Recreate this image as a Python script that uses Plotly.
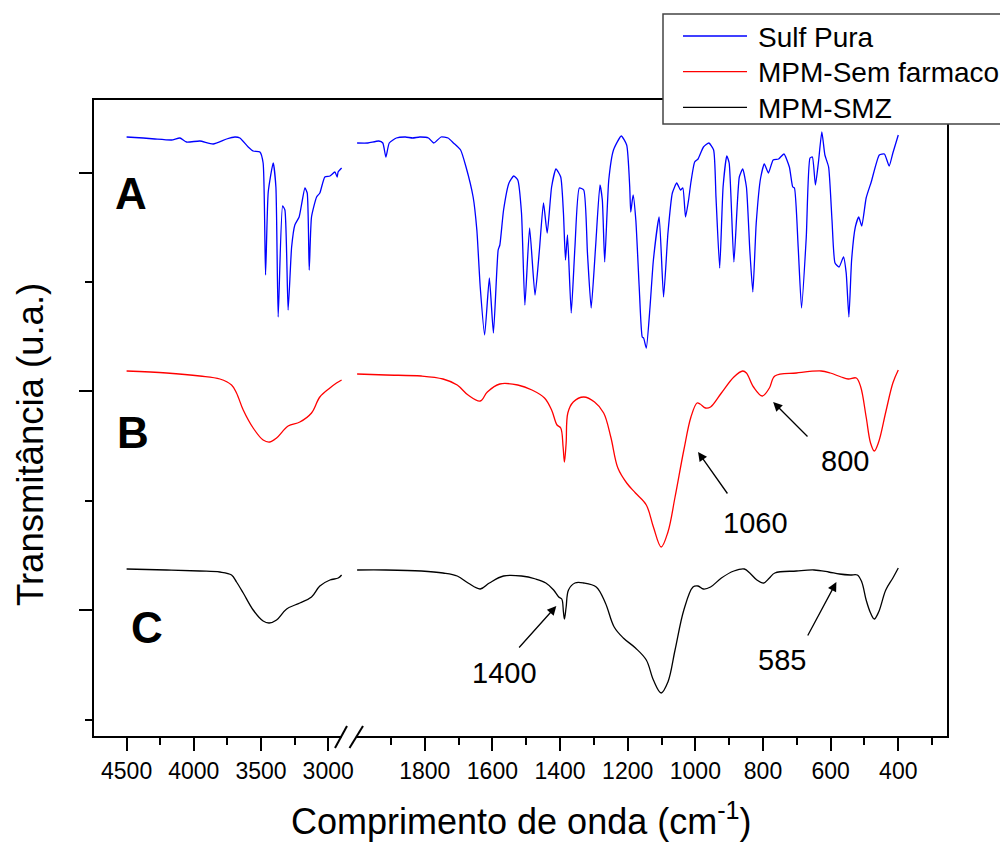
import plotly.graph_objects as go

FONT = "Liberation Sans, Arial, Helvetica, sans-serif"

# ---------------- data (wavenumber in cm-1, transmittance in arbitrary units, stacked) ----------------
series_names = ["Sulf Pura", "MPM-Sem farmaco", "MPM-SMZ"]
series_colors = ["#0000FF", "#FF0000", "#000000"]

# A - Sulf Pura
wn_a_hi = [4500, 4376, 4289, 4165, 4103, 4054, 3955, 3856, 3756, 3694, 3657, 3595, 3558, 3508,
           3484, 3466, 3446, 3409, 3389, 3372, 3339, 3322, 3298, 3272, 3248, 3216, 3173, 3156,
           3141, 3124, 3086, 3062, 3025, 2987, 2950, 2933, 2926, 2900]
val_a_hi = [600, 599, 598, 597, 599, 595, 596, 593, 598, 600, 599, 590, 586, 585,
            574, 462, 545, 574, 550, 420, 531, 527, 427, 490, 512, 520, 549, 544,
            467, 520, 540, 544, 560, 561, 565, 560, 565, 569]
wn_a_lo = [2000, 1968, 1936, 1924, 1915, 1905, 1884, 1857, 1836, 1815, 1789, 1773, 1752, 1731,
           1715, 1694, 1678, 1657, 1646, 1636, 1623, 1609, 1597, 1583, 1578, 1567, 1551, 1537,
           1525, 1514, 1504, 1490, 1474, 1461, 1449, 1438, 1425, 1412, 1398, 1390, 1384, 1378,
           1367, 1356, 1343, 1330, 1319, 1308, 1295, 1282, 1275, 1268, 1256, 1242, 1219, 1203,
           1194, 1191, 1184, 1176, 1166, 1157, 1153, 1145, 1134, 1124, 1107, 1094, 1081, 1068,
           1055, 1044, 1037, 1029, 1020, 1013, 1002, 992, 976, 960, 946, 939, 928, 918,
           907, 900, 886, 870, 860, 849, 839, 830, 820, 807, 796, 784, 770, 754,
           738, 722, 712, 707, 696, 686, 672, 661, 654, 645, 636, 626, 617, 606,
           596, 587, 575, 562, 554, 546, 538, 527, 517, 508, 495, 480, 456, 441,
           427, 416, 400]
val_a_lo = [594, 594, 596, 594, 580, 594, 599, 600, 599, 600, 599, 594, 600, 599,
            594, 587, 570, 540, 507, 450, 402, 459, 404, 487, 492, 527, 554, 561,
            557, 524, 432, 509, 442, 487, 534, 504, 550, 568, 560, 524, 477, 502,
            424, 490, 549, 547, 484, 429, 490, 552, 537, 475, 557, 587, 601, 592,
            550, 525, 542, 517, 450, 400, 399, 389, 430, 477, 520, 440, 504, 544,
            554, 547, 549, 520, 537, 555, 575, 578, 590, 594, 587, 540, 469, 550,
            581, 574, 475, 560, 568, 550, 487, 445, 514, 559, 573, 564, 577, 578,
            583, 570, 550, 549, 490, 429, 500, 579, 580, 552, 575, 605, 582, 570,
            517, 474, 470, 480, 464, 420, 477, 510, 520, 511, 539, 555, 582, 583,
            571, 584, 602]

# B - MPM-Sem farmaco
wn_b_hi = [4500, 4202, 3955, 3806, 3719, 3682, 3632, 3558, 3484, 3434, 3384, 3298, 3211, 3124,
           3062, 2987, 2938, 2900]
val_b_hi = [366, 364, 361, 358, 352, 344, 327, 309, 297, 295, 299, 311, 315, 324,
            340, 349, 354, 357]
wn_b_lo = [2000, 1915, 1810, 1746, 1704, 1672, 1636, 1615, 1578, 1525, 1483, 1446, 1425, 1409,
           1398, 1391, 1387, 1382, 1377, 1361, 1330, 1298, 1271, 1250, 1229, 1203, 1177, 1145,
           1124, 1101, 1081, 1060, 1034, 1013, 995, 986, 970, 955, 923, 886, 860, 849,
           828, 802, 781, 765, 701, 628, 601, 569, 548, 524, 511, 495, 482, 471,
           458, 437, 416, 400]
val_b_lo = [363, 362, 361, 358, 352, 342, 336, 345, 353, 352, 347, 339, 327, 312,
            309, 290, 275, 294, 324, 335, 340, 335, 324, 300, 269, 254, 244, 232,
            210, 190, 205, 240, 287, 320, 334, 333, 329, 330, 344, 360, 366, 364,
            350, 341, 349, 361, 364, 366, 364, 360, 358, 359, 350, 320, 294, 286,
            295, 325, 354, 367]

# C - MPM-SMZ
wn_c_hi = [4500, 4202, 3955, 3806, 3719, 3682, 3632, 3558, 3484, 3439, 3384, 3309, 3211, 3124,
           3062, 2987, 2925, 2900]
val_c_hi = [168, 167, 166, 165, 162, 155, 144, 127, 116, 114, 117, 128, 134, 140,
            151, 157, 159, 162]
wn_c_lo = [2000, 1915, 1810, 1746, 1704, 1672, 1636, 1609, 1567, 1514, 1472, 1442, 1419, 1404,
           1395, 1390, 1387, 1382, 1375, 1356, 1330, 1293, 1266, 1240, 1213, 1177, 1145, 1124,
           1101, 1081, 1060, 1034, 1007, 992, 976, 955, 923, 886, 855, 839, 818, 798,
           781, 765, 701, 649, 606, 574, 542, 521, 508, 495, 482, 471, 458, 437,
           416, 400]
val_c_lo = [167, 167, 166, 164, 161, 154, 148, 154, 161, 161, 158, 154, 147, 140,
            138, 125, 118, 130, 147, 154, 154, 150, 134, 110, 99, 89, 77, 57,
            44, 55, 87, 127, 150, 151, 148, 150, 159, 166, 168, 164, 157, 154,
            159, 164, 166, 167, 165, 163, 162, 162, 155, 137, 124, 118, 125, 147,
            159, 169]

# axis ticks
x_hi_ticks = [4500, 4000, 3500, 3000]
x_hi_minor = [4250, 3750, 3250]
x_lo_ticks = [1800, 1600, 1400, 1200, 1000, 800, 600, 400]
x_lo_minor = [1900, 1700, 1500, 1300, 1100, 900, 700, 500, 300]
y_major = [126.8, 345.7, 563.7]
y_minor = [17.5, 236.5, 455.5]

# band annotations: label, arrow head (wn, val), arrow tail (wn, val), label centre (wn, val)
band_labels = ["1060", "800", "1400", "585"]
band_head = [(992, 285), (770, 335), (1411, 131), (583, 155)]
band_tail = [(902, 242), (664, 299), (1525, 88), (670, 100)]
band_text = [(821, 214), (559, 276), (1565, 64), (744, 77)]

panel_labels = ["A", "B", "C"]

# ---------------- figure ----------------
W, H = 1000, 843
L, R, T, B = 93, 52, 99, 106
PW, PH = W - L - R, H - T - B


def px(x):
    return (x - L) / PW


def py(y):
    return (H - B - y) / PH


fig = go.Figure()
hi_sets = [(wn_a_hi, val_a_hi), (wn_b_hi, val_b_hi), (wn_c_hi, val_c_hi)]
lo_sets = [(wn_a_lo, val_a_lo), (wn_b_lo, val_b_lo), (wn_c_lo, val_c_lo)]
smooth = [0.5, 1.0, 1.0]
for i, name in enumerate(series_names):
    ln = dict(color=series_colors[i], width=1.3, shape="spline", smoothing=smooth[i])
    fig.add_trace(go.Scatter(x=hi_sets[i][0], y=hi_sets[i][1], xaxis="x", yaxis="y", mode="lines",
                             line=ln, name=name, legendgroup=name, showlegend=False))
    fig.add_trace(go.Scatter(x=lo_sets[i][0], y=lo_sets[i][1], xaxis="x2", yaxis="y", mode="lines",
                             line=ln, name=name, legendgroup=name, showlegend=False))

split = px(349)
common_x = dict(showgrid=False, zeroline=False, showline=False, ticks="outside", ticklen=13,
                tickwidth=2, tickcolor="black", anchor="y", tickmode="array",
                tickfont=dict(family=FONT, size=23, color="black"))
fig.update_layout(
    xaxis=dict(domain=[0, split], range=[4750, 2845], tickvals=x_hi_ticks,
               minor=dict(tickvals=x_hi_minor, ticks="outside", ticklen=7, tickwidth=2, tickcolor="black"),
               **common_x),
    xaxis2=dict(domain=[split, 1], range=[2024, 253], tickvals=x_lo_ticks,
                minor=dict(tickvals=x_lo_minor, ticks="outside", ticklen=7, tickwidth=2, tickcolor="black"),
                **common_x),
    yaxis=dict(domain=[0, 1], range=[0, 638], showgrid=False, zeroline=False, showline=False,
               tickmode="array", tickvals=y_major, showticklabels=False, ticks="outside",
               ticklen=13, tickwidth=2, tickcolor="black",
               minor=dict(tickvals=y_minor, ticks="outside", ticklen=7, tickwidth=2, tickcolor="black")),
    width=W, height=H,
    margin=dict(l=L, r=R, t=T, b=B, autoexpand=False),
    paper_bgcolor="white", plot_bgcolor="white",
    font=dict(family=FONT, color="black"),
    showlegend=False,
)

# frame, axis break marks and legend box
shapes = [
    dict(type="rect", xref="paper", yref="paper", x0=0, x1=1, y0=0, y1=1,
         line=dict(color="black", width=2), layer="above"),
    dict(type="rect", xref="paper", yref="paper", x0=px(341.5), x1=px(356.5), y0=py(741), y1=py(733),
         fillcolor="white", line=dict(width=0), layer="above"),
    dict(type="line", xref="paper", yref="paper", x0=px(335), y0=py(748), x1=px(347), y1=py(726),
         line=dict(color="black", width=2), layer="above"),
    dict(type="line", xref="paper", yref="paper", x0=px(349.5), y0=py(748), x1=px(363), y1=py(726),
         line=dict(color="black", width=2), layer="above"),
    dict(type="rect", xref="paper", yref="paper", x0=px(663), x1=px(1012), y0=py(124), y1=py(14),
         fillcolor="white", line=dict(color="#444444", width=1.5), layer="above"),
]
legend_rows = [36, 71.7, 107.3]
for i, name in enumerate(series_names):
    shapes.append(dict(type="line", xref="paper", yref="paper", x0=px(683), x1=px(747),
                       y0=py(legend_rows[i]), y1=py(legend_rows[i]),
                       line=dict(color=series_colors[i], width=1.3), layer="above"))
fig.update_layout(shapes=shapes)

ann = []
for i, name in enumerate(series_names):
    ann.append(dict(text=name, xref="paper", yref="paper", x=px(756), y=py(legend_rows[i] + 1),
                    showarrow=False, xanchor="left", yanchor="middle",
                    font=dict(family=FONT, size=28, color="black")))
for lab, (cx, cy) in zip(panel_labels, [(131, 193), (133, 432), (147, 627)]):
    ann.append(dict(text="<b>%s</b>" % lab, xref="paper", yref="paper", x=px(cx), y=py(cy),
                    showarrow=False, xanchor="center", yanchor="middle",
                    font=dict(family=FONT, size=44, color="black")))
for lab, hd, tl, tx in zip(band_labels, band_head, band_tail, band_text):
    ann.append(dict(text="", xref="x2", yref="y", x=hd[0], y=hd[1], axref="x2", ayref="y",
                    ax=tl[0], ay=tl[1], showarrow=True, arrowhead=2, arrowsize=1.4,
                    arrowwidth=1.3, arrowcolor="black", standoff=0, startstandoff=0))
    ann.append(dict(text=lab, xref="x2", yref="y", x=tx[0], y=tx[1], showarrow=False,
                    xanchor="center", yanchor="middle",
                    font=dict(family=FONT, size=29, color="black")))
ann.append(dict(text="Comprimento de onda (cm<sup>-1</sup>)", xref="paper", yref="paper",
                x=px(521), y=py(819), showarrow=False, xanchor="center", yanchor="middle",
                font=dict(family=FONT, size=36, color="black")))
ann.append(dict(text="Transmitância (u.a.)", xref="paper", yref="paper", textangle=-90,
                x=px(30), y=py(445), showarrow=False, xanchor="center", yanchor="middle",
                font=dict(family=FONT, size=36.5, color="black")))
fig.update_layout(annotations=ann)

fig.write_html("out.html")
